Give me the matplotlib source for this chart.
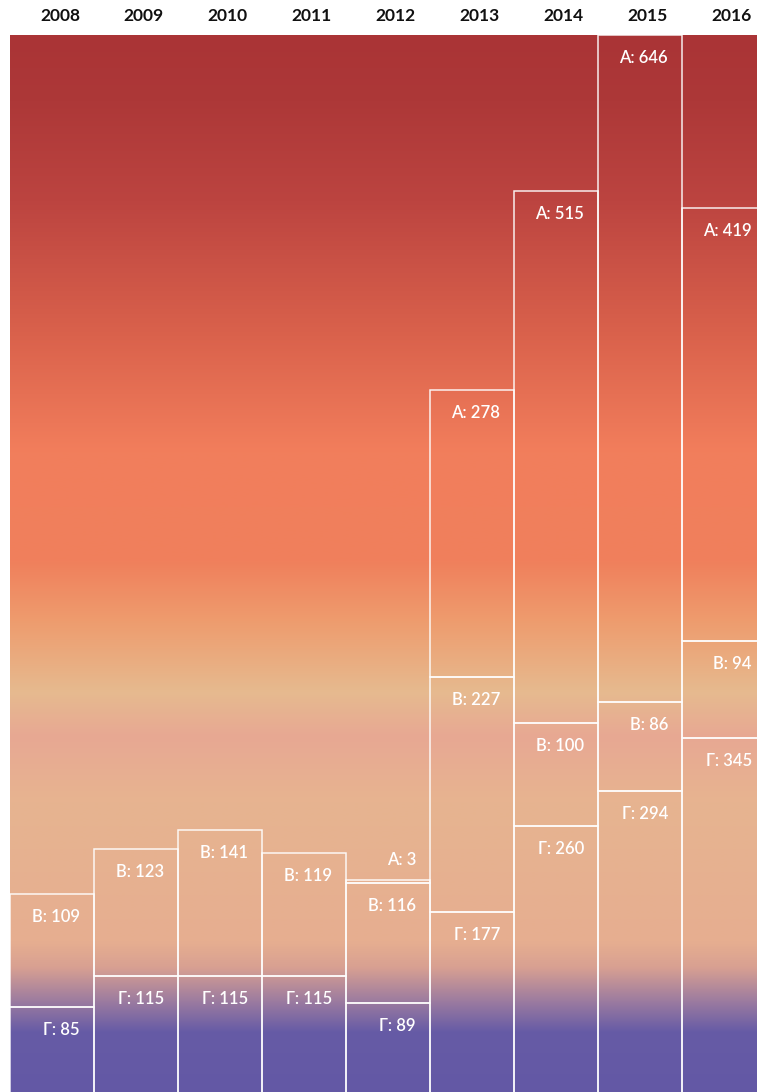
import matplotlib
matplotlib.use("Agg")
import matplotlib.pyplot as plt
import numpy as np
from matplotlib.colors import LinearSegmentedColormap

years = ["2008", "2009", "2010", "2011", "2012", "2013", "2014", "2015", "2016"]
g_vals = [85, 115, 115, 115, 89, 177, 260, 294, 345]   # Г (bottom)
v_vals = [109, 123, 141, 119, 116, 227, 100, 86, 94]   # В (middle)
a_vals = [0, 0, 0, 0, 3, 278, 515, 646, 419]           # А (top)
series = [("Г", g_vals), ("В", v_vals), ("А", a_vals)]

plt.rcParams['font.family'] = ['Lato', 'DejaVu Sans']

W, H = 757, 1092
DPI = 100
fig = plt.figure(figsize=(W / DPI, H / DPI), dpi=DPI)
fig.patch.set_facecolor("white")
top_px = 35
bottom_px = 1094.5   # plot bottom lies just below the image edge
left_px = 10
col_px = 84
ax = fig.add_axes([left_px / W, (H - bottom_px) / H, col_px * 9 / W, (bottom_px - top_px) / H])
ymax = max(g + v + a for g, v, a in zip(g_vals, v_vals, a_vals))
ax.set_xlim(-0.5, len(years) - 0.5)
ax.set_ylim(0, ymax)
ax.axis("off")

# background gradient (position fraction from bottom, colour)
stops = [
    (0.000, "#6358A5"),
    (0.059, "#665BA6"),
    (0.087, "#9A7AA0"),
    (0.120, "#D8A092"),
    (0.144, "#E6AE90"),
    (0.276, "#E7B490"),
    (0.338, "#E8A893"),
    (0.380, "#E6BA8F"),
    (0.447, "#EE9C6E"),
    (0.503, "#F0805C"),
    (0.607, "#F27E5C"),
    (0.716, "#DA624C"),
    (0.844, "#BC4440"),
    (0.938, "#AD3838"),
    (1.000, "#AA3436"),
]
cmap = LinearSegmentedColormap.from_list("bg", stops, N=1024)
grad = np.linspace(0, 1, 1024).reshape(-1, 1)
ax.imshow(grad, cmap=cmap, aspect="auto", origin="lower",
          extent=(-0.5, len(years) - 0.5, 0, ymax), zorder=0, interpolation="bilinear")

px2pt = 72 / DPI
x = np.arange(len(years))
bottom = np.zeros(len(years))
for name, vals in series:
    vals = np.array(vals, dtype=float)
    for i in range(len(years)):
        if vals[i] <= 0:
            continue
        ax.bar(x[i], vals[i], bottom=bottom[i], width=1.0, facecolor="none",
               edgecolor=(1, 1, 1, 0.92), linewidth=1.5 * px2pt, zorder=2)
        seg_top = bottom[i] + vals[i]
        seg_px = vals[i] / ymax * (bottom_px - top_px)
        dy = -23 if seg_px > 30 else 20
        ax.annotate(f"{name}: {int(vals[i])}", xy=(x[i] + 0.5, seg_top), xycoords="data",
                    xytext=(-14 * px2pt, dy * px2pt), textcoords="offset points",
                    ha="right", va="center", color="white", fontsize=12,
                    fontweight="semibold", zorder=3, annotation_clip=False)
    bottom += vals

for i, yr in enumerate(years):
    ax.annotate(yr, xy=(x[i] + 0.5, 1), xycoords=("data", "axes fraction"),
                xytext=(-14 * px2pt, 19 * px2pt), textcoords="offset points",
                ha="right", va="center", color="#111111", fontsize=12.5,
                fontweight="bold", annotation_clip=False)

fig.savefig("out.png", dpi=DPI)
